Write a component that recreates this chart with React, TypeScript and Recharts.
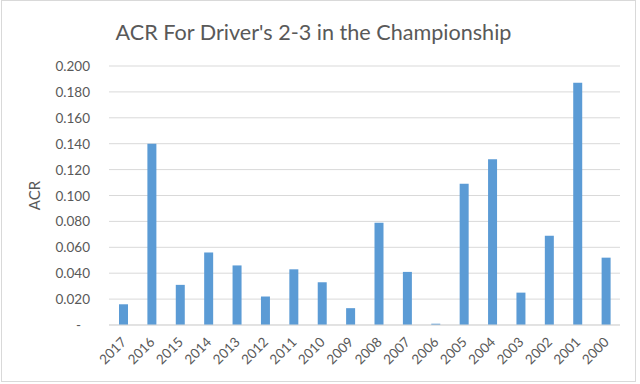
import React from 'react';
import { BarChart, Bar, XAxis, YAxis, CartesianGrid } from 'recharts';

const years = ['2017','2016','2015','2014','2013','2012','2011','2010','2009','2008','2007','2006','2005','2004','2003','2002','2001','2000'];
const acr = [0.016,0.140,0.031,0.056,0.046,0.022,0.043,0.033,0.013,0.079,0.041,0.001,0.109,0.128,0.025,0.069,0.187,0.052];
const yTicks = [0,0.02,0.04,0.06,0.08,0.1,0.12,0.14,0.16,0.18,0.2];

const data = years.map((y, i) => ({ year: y, acr: acr[i] }));

const FONT = 'Lato, "Open Sans", sans-serif';
const TXT = '#595959';

const YTick = (props: any) => {
  const { x, y, payload } = props;
  const v = payload.value as number;
  const label = v === 0 ? '-' : v.toFixed(3);
  return (
    <text x={v === 0 ? x - 9 : x} y={y} dy={5} textAnchor="end" fill={TXT} fontSize={13.5} fontFamily={FONT}>{label}</text>
  );
};

const XTick = (props: any) => {
  const { x, y, payload } = props;
  return (
    <text x={x + 4} y={y} textAnchor="end" fill={TXT} fontSize={13.5} fontFamily={FONT}
      transform={`rotate(-45, ${x + 4}, ${y})`}>{payload.value}</text>
  );
};

export default function App() {
  return (
    <div style={{ position: 'absolute', left: 0, top: 0, width: 640, height: 384, background: '#fff' }}>
      <div style={{ position: 'absolute', left: 1, top: 0, width: 635, height: 382, border: '1px solid #d9d9d9', boxSizing: 'border-box' }} />
      <div style={{ position: 'absolute', left: 0, top: 19, width: 627, textAlign: 'center', fontFamily: FONT, fontSize: 21.6, color: TXT }}>
        ACR For Driver's 2-3 in the Championship
      </div>
      <div style={{ position: 'absolute', left: 0, top: 0 }}>
        <BarChart width={640} height={384} data={data} margin={{ top: 66, right: 20, left: 0, bottom: 0 }} barCategoryGap="33%">
          <CartesianGrid vertical={false} stroke="#d9d9d9" strokeWidth={1} />
          <XAxis dataKey="year" interval={0} height={59} axisLine={{ stroke: '#d9d9d9' }} tickLine={false} tick={<XTick />} tickSize={0} tickMargin={18} />
          <YAxis width={109} domain={[0, 0.2]} ticks={yTicks} axisLine={false} tickLine={false} tick={<YTick />} tickSize={0} tickMargin={19}
            label={{ value: 'ACR', angle: -90, position: 'insideLeft', offset: 35, style: { fill: TXT, fontSize: 15, fontFamily: FONT, textAnchor: 'middle' } }} />
          <Bar dataKey="acr" fill="#5b9bd5" barSize={9} isAnimationActive={false} />
        </BarChart>
      </div>
    </div>
  );
}
